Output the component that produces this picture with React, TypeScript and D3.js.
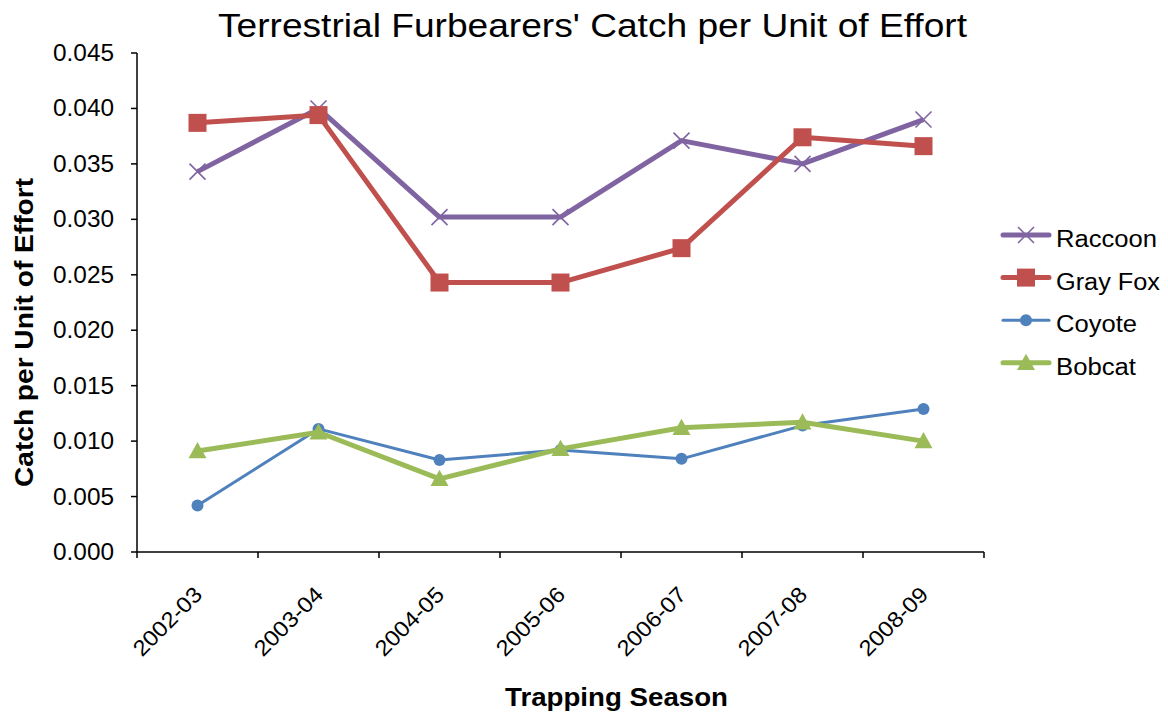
import React from "react";
import * as d3 from "d3";

const seasons = ["2002-03", "2003-04", "2004-05", "2005-06", "2006-07", "2007-08", "2008-09"];
const raccoon = [0.0343, 0.0400, 0.0302, 0.0302, 0.0371, 0.0350, 0.0390];
const grayFox = [0.0387, 0.0394, 0.0243, 0.0243, 0.0274, 0.0374, 0.0366];
const coyote = [0.0042, 0.0111, 0.0083, 0.0092, 0.0084, 0.0114, 0.0129];
const bobcat = [0.0091, 0.0108, 0.0066, 0.0093, 0.0112, 0.0117, 0.0100];
const yTicks = [0, 0.005, 0.01, 0.015, 0.02, 0.025, 0.03, 0.035, 0.04, 0.045];

const series = [
  { name: "Raccoon", values: raccoon, color: "#8064A2", width: 5, marker: "x", len: 101 },
  { name: "Gray Fox", values: grayFox, color: "#C0504D", width: 5, marker: "square", len: 104 },
  { name: "Coyote", values: coyote, color: "#4F81BD", width: 3, marker: "circle", len: 81 },
  { name: "Bobcat", values: bobcat, color: "#9BBB59", width: 5, marker: "triangle", len: 80 },
];

const FONT = "'Liberation Sans', Arial, sans-serif";

function Marker({ type, x, y, color }: { type: string; x: number; y: number; color: string }) {
  if (type === "x") {
    const s = 8;
    return (
      <path d={`M${x - s},${y - s}L${x + s},${y + s}M${x - s},${y + s}L${x + s},${y - s}`} stroke={color} strokeWidth={1.6} fill="none" />
    );
  }
  if (type === "square") {
    return <rect x={x - 9} y={y - 9} width={18} height={18} fill={color} />;
  }
  if (type === "circle") {
    return <circle cx={x} cy={y} r={6} fill={color} />;
  }
  const s = 9;
  return <path d={`M${x},${y - s}L${x + s},${y + s * 0.8}L${x - s},${y + s * 0.8}Z`} fill={color} />;
}

export default function App() {
  const W = 1168, H = 715;
  const left = 137, right = 984, top = 53, bottom = 552;
  const x = d3.scaleBand<string>().domain(seasons).range([left, right]);
  const y = d3.scaleLinear().domain([0, 0.045]).range([bottom, top]);
  const cx = (s: string) => (x(s) as number) + x.bandwidth() / 2;
  const line = d3.line<number>().x((_, i) => cx(seasons[i])).y((d) => y(d));
  const xTickPos = [...seasons.map((s) => x(s) as number), right];

  return (
    <svg width={W} height={H} style={{ position: "absolute", left: 0, top: 0, background: "#fff" }} fontFamily={FONT}>
      <text x={592.5} y={37} textAnchor="middle" fontSize={33} textLength={749} lengthAdjust="spacingAndGlyphs">
        Terrestrial Furbearers' Catch per Unit of Effort
      </text>
      {/* y axis */}
      <line x1={left} x2={left} y1={top} y2={bottom} stroke="#000" strokeWidth={1.5} />
      {yTicks.map((t) => (
        <g key={t}>
          <line x1={left - 6} x2={left} y1={y(t)} y2={y(t)} stroke="#000" strokeWidth={1.5} />
          <text x={114} y={y(t) + 8} textAnchor="end" fontSize={23} textLength={61} lengthAdjust="spacingAndGlyphs">
            {d3.format(".3f")(t)}
          </text>
        </g>
      ))}
      {/* x axis */}
      <line x1={left} x2={right} y1={bottom} y2={bottom} stroke="#000" strokeWidth={1.5} />
      {xTickPos.map((p, i) => (
        <line key={i} x1={p} x2={p} y1={bottom} y2={bottom + 6} stroke="#000" strokeWidth={1.5} />
      ))}
      {seasons.map((s) => (
        <text key={s} transform={`translate(${cx(s) + 6},${bottom + 44}) rotate(-45)`} textAnchor="end" fontSize={22} textLength={87} lengthAdjust="spacingAndGlyphs">
          {s}
        </text>
      ))}
      <text transform={`translate(33,332.5) rotate(-90)`} textAnchor="middle" fontSize={26} fontWeight="bold" textLength={309} lengthAdjust="spacingAndGlyphs">
        Catch per Unit of Effort
      </text>
      <text x={616.5} y={706} textAnchor="middle" fontSize={26} fontWeight="bold" textLength={223} lengthAdjust="spacingAndGlyphs">
        Trapping Season
      </text>
      {series.map((sr) => (
        <g key={sr.name}>
          <path d={line(sr.values) as string} fill="none" stroke={sr.color} strokeWidth={sr.width} strokeLinejoin="round" />
          {sr.values.map((v, i) => (
            <Marker key={i} type={sr.marker} x={cx(seasons[i])} y={y(v)} color={sr.color} />
          ))}
        </g>
      ))}
      {/* legend */}
      {series.map((sr, i) => {
        const ly = 235 + i * 42.6;
        return (
          <g key={sr.name}>
            <line x1={1003} x2={1049} y1={ly} y2={ly} stroke={sr.color} strokeWidth={sr.width} strokeLinecap="round" />
            <Marker type={sr.marker} x={1026} y={ly} color={sr.color} />
            <text x={1056} y={ly + 12} fontSize={23} textLength={sr.len} lengthAdjust="spacingAndGlyphs">
              {sr.name}
            </text>
          </g>
        );
      })}
    </svg>
  );
}
